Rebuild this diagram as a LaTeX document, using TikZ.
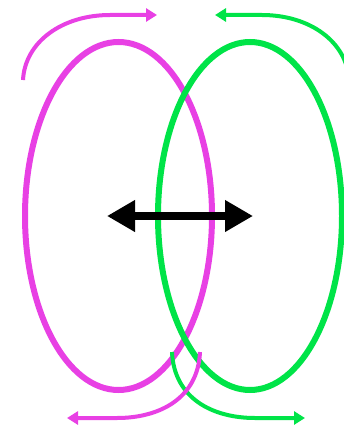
\documentclass[tikz,border=0pt]{standalone}
\usepackage{tikz}
\usetikzlibrary{arrows.meta}
\definecolor{loopmagenta}{RGB}{232,64,228}
\definecolor{loopgreen}{RGB}{0,228,72}

\begin{document}
\begin{tikzpicture}[x=1pt,y=-1pt,
		loopline/.style={line width=6pt},
		flowarrow/.style={line width=4pt,-{Triangle[length=11pt,width=13pt]}}]
			\useasboundingbox (0,0) rectangle (344,428);
			\clip (0,0) rectangle (344,428);
			\fill[white] (0,0) rectangle (344,428);
			
			\draw[loopline,loopmagenta] (118.5,216) ellipse [x radius=93.5pt, y radius=174pt];
			\draw[loopline,loopgreen] (250,216) ellipse [x radius=92pt, y radius=174pt];
			
			\draw[flowarrow,loopmagenta] (23,80) .. controls (25,42) and (62,15) .. (110,15) -- (157,15);
			\draw[flowarrow,loopgreen] (349,80) .. controls (347,42) and (310,15) .. (262,15) -- (215,15);
			
			\draw[flowarrow,loopgreen] (172,352) .. controls (174,398) and (212,418) .. (255,418) -- (305,418);
			\draw[flowarrow,loopmagenta] (200,352) .. controls (198,398) and (160,418) .. (117,418) -- (67,418);
			
			\coordinate (pushleft) at (107,216);
			\coordinate (pushright) at (253,216);
			\draw[line width=8pt,{Triangle[length=28pt,width=30pt]}-{Triangle[length=28pt,width=30pt]}] (pushleft) -- (pushright);
			
		\end{tikzpicture}
\end{document}
